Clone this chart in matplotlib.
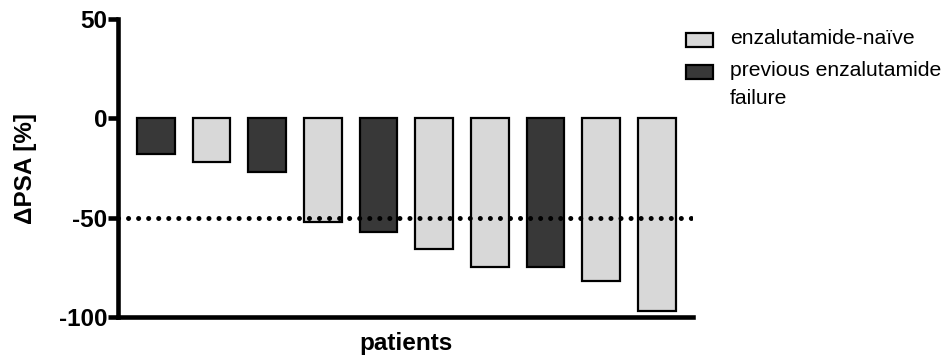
import matplotlib.pyplot as plt
from matplotlib.patches import Rectangle

# Data #
patients = list(range(10))
delta_psa = [-18, -22, -27, -52, -57, -66, -75, -75, -82, -97]
group = ["prev", "naive", "prev", "naive", "prev", "naive", "naive", "prev", "naive", "naive"]
group_labels = {"naive": "enzalutamide-naïve", "prev": "previous enzalutamide\nfailure"}
group_colors = {"naive": "#d8d8d8", "prev": "#383838"}
threshold = -50
yticks = [50, 0, -50, -100]

plt.rcParams["font.family"] = ["Liberation Sans", "DejaVu Sans"]
plt.rcParams["axes.unicode_minus"] = False

fig = plt.figure(figsize=(9.48, 3.58), dpi=100)
ax = fig.add_axes([118 / 948, 1 - 317 / 358, (693 - 118) / 948, (317 - 19) / 358])

colors = [group_colors[g] for g in group]
ax.bar(patients, delta_psa, width=0.68, color=colors, edgecolor="black", linewidth=1.6, zorder=2)
ax.axhline(threshold, color="black", linestyle=(0, (0.01, 2.0)), linewidth=3.6,
           dash_capstyle="round", zorder=3)

ax.set_xlim(-0.68, 9.65)
ax.set_ylim(-100, 50)
ax.set_yticks(yticks)
ax.set_xticks([])
for s in ["top", "right"]:
    ax.spines[s].set_visible(False)
for s in ["left", "bottom"]:
    ax.spines[s].set_linewidth(3.3)
ax.tick_params(axis="y", length=7, width=3.3, labelsize=17.5, pad=0.5)
for lab in ax.get_yticklabels():
    lab.set_fontweight("bold")
ax.set_ylabel("ΔPSA [%]", fontsize=17.5, fontweight="bold", labelpad=16)
ax.set_xlabel("patients", fontsize=17.5, fontweight="bold", labelpad=11)

# Legend, drawn by hand so the patch sits on the first text line #
W, H = 948, 358
entries = [("naive", 40), ("prev", 71.5)]
for key, yc in entries:
    fig.add_artist(Rectangle((686 / W, 1 - (yc + 7) / H), 27 / W, 14 / H,
                             transform=fig.transFigure, facecolor=group_colors[key],
                             edgecolor="black", linewidth=1.6))
    fig.text(730 / W, 1 - (yc - 11) / H, group_labels[key], fontsize=15.2, va="top",
             ha="left", linespacing=1.6)

fig.savefig("out.png", dpi=100)
